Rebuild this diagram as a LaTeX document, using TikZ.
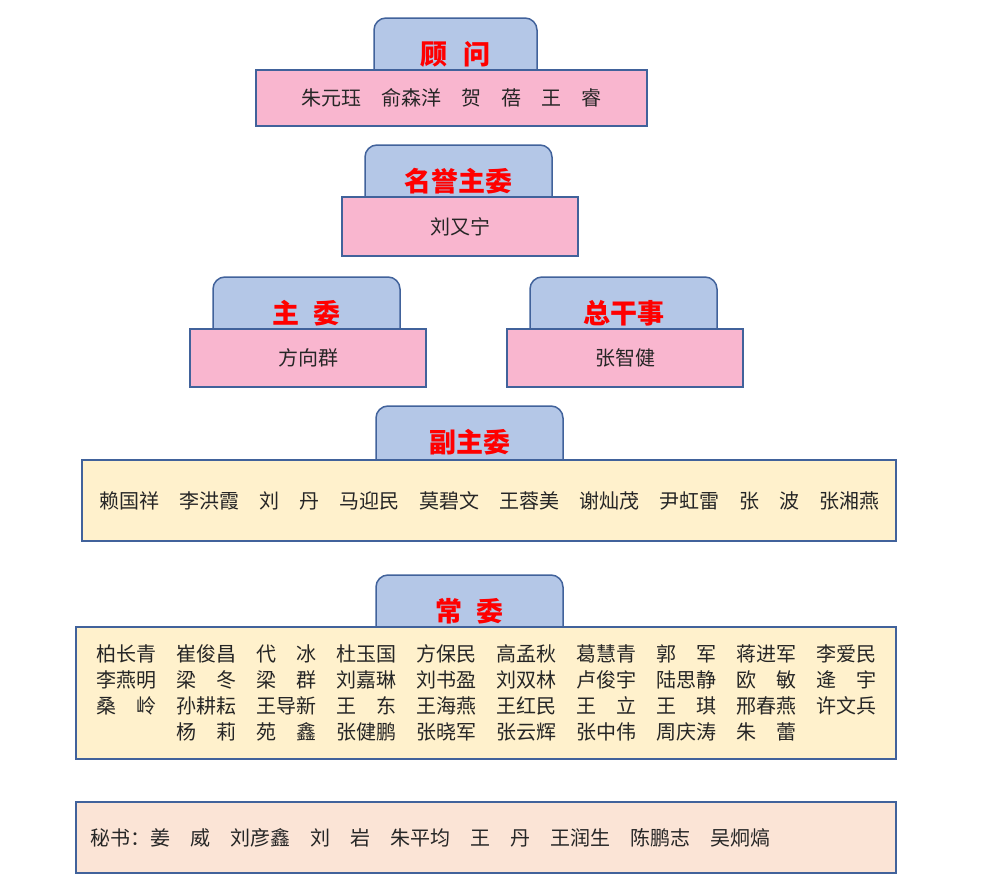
\documentclass[tikz,border=0pt]{standalone}
\usepackage{fontspec}
\setmainfont{Noto Sans CJK SC}
\usetikzlibrary{positioning}

\definecolor{rim}{RGB}{65,98,155}
\definecolor{tabblue}{RGB}{180,199,231}
\definecolor{rosa}{RGB}{249,182,207}
\definecolor{cream}{RGB}{255,241,204}
\definecolor{peach}{RGB}{251,228,214}

\tikzset{
  tabcap/.style={draw=rim, fill=tabblue, line width=1.5pt, rounded corners=12pt,
    minimum height=72pt, inner sep=0pt, text=red,
    font=\fontsize{27}{27}\selectfont\bfseries},
  namebox/.style={draw=rim, line width=1.5pt, inner sep=0pt, text=black!85,
    font=\fontsize{20}{26}\selectfont},
}

\begin{document}
\begin{tikzpicture}[x=1pt,y=-1pt]
    \useasboundingbox (0,0) rectangle (982,886);

    % tabs first, the boxes hide their lower part
    \node[tabcap, minimum width=163pt] (gw) at (455.5,54) {顾\hspace{0.6em}问};
    \node[namebox, fill=rosa, minimum width=391pt, minimum height=56pt,
      below=-21.5pt of gw, xshift=-4pt] (gwbox)
      {朱元珏　俞森洋　贺　蓓　王　睿};

    \node[tabcap, minimum width=187pt] (myzw) at (458.5,181) {名誉主委};
    \node[namebox, fill=rosa, minimum width=236pt, minimum height=59pt,
      below=-21.5pt of myzw, xshift=1.5pt] (myzwbox)
      {刘又宁};

    \node[tabcap, minimum width=187pt] (zw) at (306.5,313) {主\hspace{0.55em}委};
    \node[namebox, fill=rosa, minimum width=236pt, minimum height=58pt,
      below=-21.5pt of zw, xshift=1.5pt] (zwbox)
      {方向群};

    \node[tabcap, minimum width=187pt] (zgs) at (623.5,313) {总干事};
    \node[namebox, fill=rosa, minimum width=236pt, minimum height=58pt,
      below=-21.5pt of zgs, xshift=1.5pt] (zgsbox)
      {张智健};

    \node[tabcap, minimum width=187pt] (fzw) at (469.5,442) {副主委};
    \node[namebox, fill=cream, minimum width=814pt, minimum height=81pt,
      below=-19.5pt of fzw, xshift=19.5pt] (fzwbox)
      {赖国祥　李洪霞　刘　丹　马迎民　莫碧文　王蓉美　谢灿茂　尹虹雷　张　波　张湘燕};

    \node[tabcap, minimum width=187pt] (cw) at (469.5,611) {常\hspace{0.55em}委};
    \node[namebox, fill=cream, minimum width=820pt, minimum height=132pt, align=left,
      below=-21.5pt of cw, xshift=16.5pt] (cwbox)
      {柏长青　崔俊昌　代　冰　杜玉国　方保民　高孟秋　葛慧青　郭　军　蒋进军　李爱民\\
       李燕明　梁　冬　梁　群　刘嘉琳　刘书盈　刘双林　卢俊宇　陆思静　欧　敏　逄　宇\\
       桑　岭　孙耕耘　王导新　王　东　王海燕　王红民　王　立　王　琪　邢春燕　许文兵\\
       　　　　杨　莉　苑　鑫　张健鹏　张晓军　张云辉　张中伟　周庆涛　朱　蕾};

    \node[namebox, fill=peach, minimum width=820pt, minimum height=71pt,
      text width=792pt, align=left, below=41.5pt of cwbox] (msbox)
      {秘书：姜　威　刘彦鑫　刘　岩　朱平均　王　丹　王润生　陈鹏志　吴炯熇};
\end{tikzpicture}
\end{document}
